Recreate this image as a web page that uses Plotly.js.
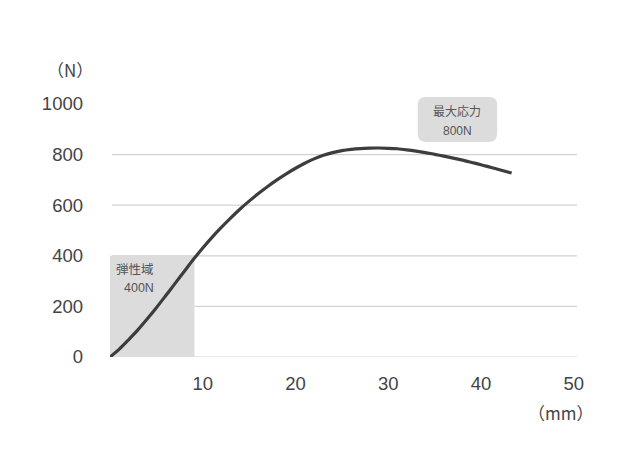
<!DOCTYPE html>
<html><head><meta charset="utf-8">
<script src="https://cdn.plot.ly/plotly-3.0.1.min.js"></script>
<style>html,body{margin:0;padding:0;background:#fff}#chart{width:640px;height:457px}</style>
</head><body><div id="chart"></div>
<script>
// Displacement (mm) vs force (N)
const displacement = [0, 1, 2, 3, 4, 5, 6, 7, 8, 9, 10, 11, 12, 13, 14, 15, 16, 17, 18, 19, 20, 21, 22, 23, 24, 25, 26, 27, 28, 29, 30, 31, 32, 33, 34, 35, 36, 37, 38, 39, 40, 41, 42, 43.3];
const force        = [0, 31, 68, 107, 150, 195, 242, 290, 338, 386, 431, 473, 512, 549, 584, 616, 646, 674, 700, 724, 746, 766, 783, 797, 808, 816, 821, 824, 825.5, 826, 825, 823, 819, 814, 808, 801, 794, 786, 778, 769, 760, 750, 740, 727];
const elasticLimitX = 9.1;
const elasticLimitY = 400;
const yTicks = [0, 200, 400, 600, 800, 1000];
const xTicks = [10, 20, 30, 40, 50];
const gridValues = [0, 200, 400, 600, 800];

const font = "'Liberation Sans', Arial, 'Noto Sans CJK JP', sans-serif";
const jpFont = "'Noto Sans CJK JP', 'Liberation Sans', sans-serif";
const textColor = '#444444';

const shapes = [];
shapes.push({type:'rect', xref:'x', yref:'y', x0:0, x1:elasticLimitX, y0:0, y1:elasticLimitY,
  fillcolor:'#dcdcdc', line:{width:0}, layer:'below'});
gridValues.forEach(v => shapes.push({type:'line', xref:'paper', yref:'y', x0:0.004, x1:1, y0:v, y1:v,
  line:{color:'#d2d2d2', width:1.2}, layer:'below'}));
// rounded label box (paper coords)
const bx0=0.659, bx1=0.829, by0=0.85, by1=1.028, rx=0.017, ry=0.032;
shapes.push({type:'path', xref:'paper', yref:'paper', fillcolor:'#dcdcdc', line:{width:0}, layer:'above',
  path:`M ${bx0+rx} ${by0} L ${bx1-rx} ${by0} Q ${bx1} ${by0} ${bx1} ${by0+ry} L ${bx1} ${by1-ry} Q ${bx1} ${by1} ${bx1-rx} ${by1} L ${bx0+rx} ${by1} Q ${bx0} ${by1} ${bx0} ${by1-ry} L ${bx0} ${by0+ry} Q ${bx0} ${by0} ${bx0+rx} ${by0} Z`});

const data = [{
  x: displacement, y: force, type:'scatter', mode:'lines',
  line:{color:'#3d3d3d', width:3.2, shape:'spline', smoothing:0.8},
  hoverinfo:'skip'
}];

const layout = {
  width:640, height:457,
  margin:{l:110, r:63, t:104, b:100},
  paper_bgcolor:'#ffffff', plot_bgcolor:'rgba(0,0,0,0)',
  showlegend:false,
  font:{family:font, color:textColor, size:18},
  xaxis:{range:[0,50.35], showgrid:false, zeroline:false, showline:false,
    tickmode:'array', tickvals:xTicks, ticktext:xTicks.map(String), ticks:'',
    ticklabelstandoff:13, tickfont:{size:18.5, color:textColor, family:font}, fixedrange:true},
  yaxis:{range:[0,1000], showgrid:false, zeroline:false, showline:false,
    tickmode:'array', tickvals:yTicks, ticktext:yTicks.map(String), ticks:'',
    ticklabelstandoff:26, tickfont:{size:18.5, color:textColor, family:font}, fixedrange:true},
  shapes: shapes,
  annotations:[
    {xref:'paper', yref:'paper', x:-0.085, y:1.135, text:'（N）', showarrow:false, xanchor:'center', yanchor:'middle',
     font:{family:jpFont, size:17, color:textColor}},
    {xref:'paper', yref:'paper', x:0.965, y:-0.22, text:'（mm）', showarrow:false, xanchor:'center', yanchor:'middle',
     font:{family:jpFont, size:17, color:textColor}},
    {xref:'paper', yref:'paper', x:0.744, y:0.976, text:'最大応力', showarrow:false, xanchor:'center', yanchor:'middle',
     font:{family:jpFont, size:12, color:'#555555'}},
    {xref:'paper', yref:'paper', x:0.744, y:0.895, text:'800N', showarrow:false, xanchor:'center', yanchor:'middle',
     font:{family:font, size:12, color:'#555555'}},
    {xref:'paper', yref:'paper', x:0.053, y:0.348, text:'弾性域', showarrow:false, xanchor:'center', yanchor:'middle',
     font:{family:jpFont, size:12.5, color:'#555555'}},
    {xref:'paper', yref:'paper', x:0.062, y:0.272, text:'400N', showarrow:false, xanchor:'center', yanchor:'middle',
     font:{family:font, size:12.5, color:'#555555'}}
  ]
};
Plotly.newPlot('chart', data, layout, {staticPlot:true, displayModeBar:false});
</script></body></html>
